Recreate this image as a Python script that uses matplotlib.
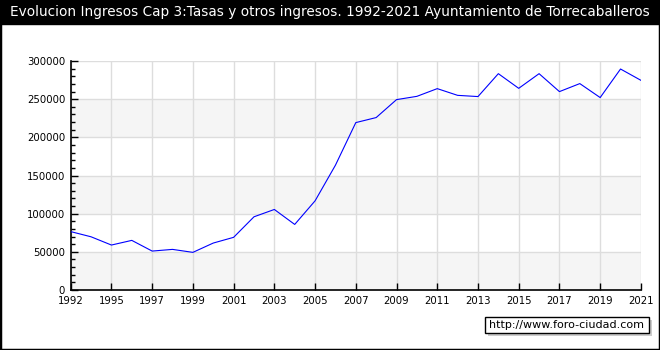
import matplotlib.pyplot as plt
from matplotlib.patches import Rectangle
from matplotlib.ticker import MultipleLocator

years = [1992, 1994, 1995, 1996, 1997, 1998, 1999, 2000, 2001, 2002,
         2003, 2004, 2005, 2006, 2007, 2008, 2009, 2010, 2011, 2012,
         2013, 2014, 2015, 2016, 2017, 2018, 2019, 2020, 2021]
ingresos = [76500, 69700, 58900, 65000, 51000, 53200, 49300, 61500, 69000, 95900,
            105500, 85900, 116800, 163500, 219300, 225900, 249400, 253700, 263800, 255000,
            253400, 283400, 264200, 283400, 259900, 270400, 252100, 289500, 274700]

title = "Evolucion Ingresos Cap 3:Tasas y otros ingresos. 1992-2021 Ayuntamiento de Torrecaballeros"

fig = plt.figure(figsize=(6.6, 3.5), dpi=100)
fig.patch.set_facecolor("white")

# black frame and title bar
fig.add_artist(Rectangle((0, 0), 1, 1, transform=fig.transFigure, fill=False,
                         edgecolor="black", linewidth=2.5))
fig.add_artist(Rectangle((0, 1 - 24 / 350), 1, 24 / 350, transform=fig.transFigure,
                         facecolor="black", edgecolor="black"))
fig.text(0.5, 1 - 12 / 350, title, color="white", ha="center", va="center",
         fontsize=9.8, family="DejaVu Sans")

ax = fig.add_axes([70.7 / 660, 60 / 350, 570.2 / 660, 229 / 350])
x = list(range(len(years)))

# alternating bands
for lo in range(0, 300000, 100000):
    ax.axhspan(lo, lo + 50000, color="#f5f5f5", zorder=0, linewidth=0)

ax.plot(x, ingresos, color="blue", linewidth=0.8, zorder=3)

ax.set_xlim(0, len(years) - 1)
ax.set_ylim(0, 300000)
ticks = x[::2]
ax.set_xticks(ticks)
ax.set_xticklabels([str(years[i]) for i in ticks])
ax.set_yticks(range(0, 300001, 50000))
ax.yaxis.set_minor_locator(MultipleLocator(10000))
ax.grid(True, color="#dddddd", linewidth=1, zorder=1)
ax.set_axisbelow(True)

for s in ["top", "right"]:
    ax.spines[s].set_visible(False)
for s in ["left", "bottom"]:
    ax.spines[s].set_linewidth(1.2)

ax.tick_params(axis="both", which="major", direction="in", length=5, width=1,
               labelsize=7.3, pad=4)
ax.tick_params(axis="y", which="minor", direction="in", length=3, width=1)

# watermark with shadow
fig.add_artist(Rectangle((488 / 660, 1 - 336 / 350), 164 / 660, 16 / 350,
                         transform=fig.transFigure, facecolor="#cccccc", edgecolor="none"))
fig.add_artist(Rectangle((485 / 660, 1 - 333 / 350), 164 / 660, 16 / 350,
                         transform=fig.transFigure, facecolor="white", edgecolor="black",
                         linewidth=1))
fig.text(567 / 660, 1 - 325 / 350, "http://www.foro-ciudad.com", ha="center", va="center",
         fontsize=8, family="DejaVu Sans")

fig.savefig("out.png", dpi=100)
